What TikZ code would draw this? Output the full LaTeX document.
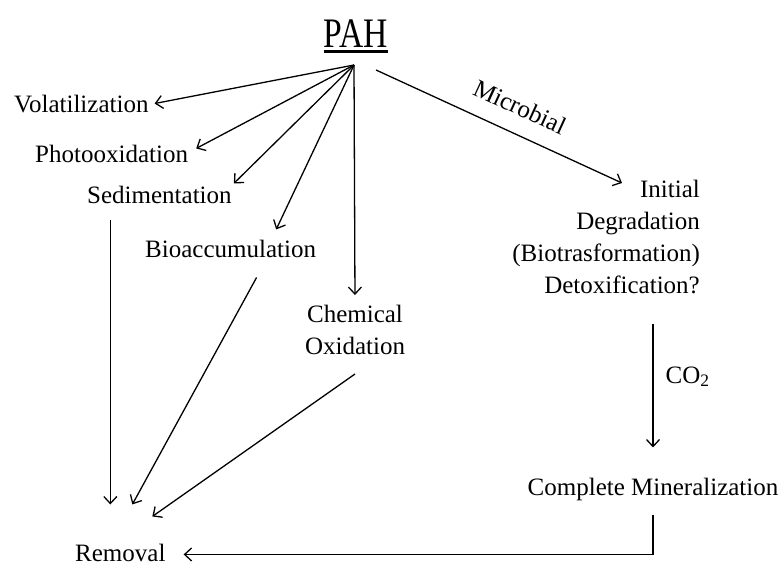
\documentclass[tikz,border=0pt]{standalone}
\usepackage{fontspec}
\setmainfont{Liberation Serif}
\newfontfamily\pahfont[FakeStretch=0.8]{Liberation Serif}
\usepackage{tikz}
\usetikzlibrary{arrows.meta,positioning,calc}
\newcommand{\thickul}[1]{\setbox0=\hbox{#1}\rlap{\rule[-6pt]{\wd0}{2.6pt}}\box0}

\begin{document}
\begin{tikzpicture}[x=1pt, y=-1pt,
  lbl/.style={inner sep=2pt, font=\fontsize{25}{32}\selectfont},
  arr/.style={-{Straight Barb[length=7pt,width=13pt]}, line width=1.3pt}]
\useasboundingbox (0,0) rectangle (783,565);
\node[lbl, anchor=base, font=\pahfont\fontsize{42}{48}\selectfont] (pah) at (356,47) {\thickul{PAH}};
\coordinate (hub) at (354,65);
\node[lbl, anchor=base west] (vol) at (12,112) {Volatilization};
\node[lbl, anchor=base west] (photo) at (33,162) {Photooxidation};
\node[lbl, anchor=base west] (sed) at (85,203) {Sedimentation};
\node[lbl, anchor=base west] (bio) at (143,257) {Bioaccumulation};
\node[lbl, align=center, anchor=north] (chem) at (355,303) {Chemical\\Oxidation};
\node[lbl, align=right, anchor=north east] (init) at (702,178) {Initial\\Degradation\\(Biotrasformation)\\Detoxification?};
\node[lbl, anchor=base] (cm) at (653,495) {Complete Mineralization};
\node[lbl, anchor=base west] (rem) at (73,561) {Removal};
% fan out of PAH
\draw[arr] (hub) -- ([xshift=4pt]vol.east);
\draw[arr] (hub) -- ([xshift=6pt,yshift=5pt]photo.east);
\draw[arr] (hub) -- (sed.north east);
\draw[arr] (hub) -- ([xshift=-42pt,yshift=8pt]bio.north east);
\draw[arr, shorten >=8pt] (hub) -- (chem.north);
\draw[arr] ([xshift=22pt,yshift=-5pt]hub) -- ([xshift=-80pt,yshift=-5pt]init.north east)
  node[lbl, pos=0.54, above=15pt, sloped] (mic) {Microbial};
% microbial branch
\draw[arr, shorten <=28pt, shorten >=28pt] (cm.north |- init.south) -- (cm.north)
  node[lbl, pos=0.45, right=10pt] (co2) {CO\textsubscript{2}};
\draw[arr] ([yshift=-12pt]cm.south) |- ([xshift=16pt,yshift=-2pt]rem.east);
% into removal
\draw[arr] ($(sed.south -| rem.north)+(-10pt,-15pt)$) -- ([xshift=-10pt,yshift=37pt]rem.north);
\draw[arr] ([xshift=26pt,yshift=-18pt]bio.south) -- ([xshift=12pt,yshift=37pt]rem.north);
\draw[arr] ([yshift=-17pt]chem.south) -- ([xshift=32pt,yshift=25pt]rem.north);
\end{tikzpicture}
\end{document}
